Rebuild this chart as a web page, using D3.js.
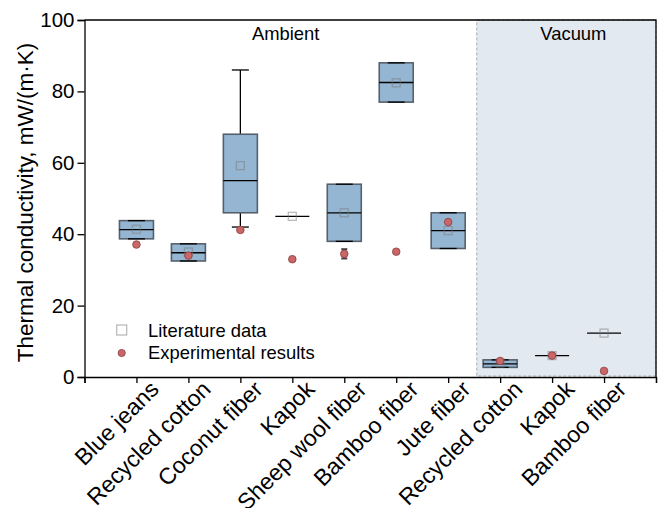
<!DOCTYPE html>
<html>
<head>
<meta charset="utf-8">
<script src="https://cdn.jsdelivr.net/npm/d3@7"></script>
<style>
  html, body { margin: 0; padding: 0; background: #fff; }
  svg { display: block; }
  text { font-family: "Liberation Sans", Arial, Helvetica, sans-serif; fill: #000; }
</style>
</head>
<body>
<svg id="chart" width="664" height="508"></svg>
<script>
// Insulation materials, in plotting order
const categories = ["Blue jeans", "Recycled cotton", "Coconut fiber", "Kapok", "Sheep wool fiber",
                    "Bamboo fiber", "Jute fiber", "Recycled cotton", "Kapok", "Bamboo fiber"];
const conditions = ["Ambient", "Ambient", "Ambient", "Ambient", "Ambient", "Ambient", "Ambient",
                    "Vacuum", "Vacuum", "Vacuum"];

// Literature data: box statistics, mW/(m·K)
const litMin    = [38.7, 32.5, 42.0, 45.0, 38.0, 77.0, 36.0, 2.7, 6.0, 12.3];
const litQ1     = [38.7, 32.5, 46.0, 45.0, 38.0, 77.0, 36.0, 2.7, 6.0, 12.3];
const litMedian = [41.3, 34.8, 55.0, 45.0, 46.0, 82.5, 41.0, 3.7, 6.0, 12.3];
const litQ3     = [43.8, 37.3, 68.0, 45.0, 54.0, 88.0, 46.0, 4.8, 6.0, 12.3];
const litMax    = [43.8, 37.3, 86.0, 45.0, 54.0, 88.0, 46.0, 4.8, 6.0, 12.3];
const litMean   = [41.4, 35.0, 59.2, 45.0, 46.0, 82.4, 41.0, 3.9, 6.0, 12.3];

// Experimental results with uncertainty
const expValue = [37.1, 34.0, 41.2, 33.0, 34.5, 35.1, 43.4, 4.5, 6.0, 1.7];
const expError = [0, 0, 0, 0, 1.3, 0, 0, 0, 0, 0];

const yTicks = [0, 20, 40, 60, 80, 100];
const vacuumStart = 7.55;   // boundary between ambient and vacuum groups (category index space)

const svg = d3.select("#chart");
const margin = { left: 84.5, right: 8, top: 20, bottom: 131 };
const W = 664, H = 508;

// categories sit at positions 1..n, frame spans 0..n+1
const x = d3.scaleLinear().domain([0, categories.length + 1]).range([margin.left, W - margin.right]);
const y = d3.scaleLinear().domain([0, 100]).range([H - margin.bottom, margin.top]);
const pos = i => x(i + 1);

const boxW = 34, capW = 17;

// vacuum background
svg.append("rect")
  .attr("x", x(vacuumStart)).attr("y", y(100))
  .attr("width", x(categories.length + 1) - x(vacuumStart))
  .attr("height", y(0) - y(100) - 1)
  .attr("fill", "#e2e9f1")
  .attr("stroke", "#a7aeb6").attr("stroke-width", 1).attr("stroke-dasharray", "3,2");

// group labels
svg.append("text").attr("x", (x(0) + x(vacuumStart)) / 2 + 5).attr("y", 40)
  .attr("text-anchor", "middle").attr("font-size", 18.4).text("Ambient");
svg.append("text").attr("x", (x(vacuumStart) + x(categories.length + 1)) / 2 + 7).attr("y", 40)
  .attr("text-anchor", "middle").attr("font-size", 18.4).text("Vacuum");

const g = svg.append("g");
categories.forEach((c, i) => {
  const cx = pos(i);
  // whiskers
  g.append("line").attr("x1", cx).attr("x2", cx).attr("y1", y(litQ3[i])).attr("y2", y(litMax[i]))
    .attr("stroke", "#000").attr("stroke-width", 1.3);
  g.append("line").attr("x1", cx).attr("x2", cx).attr("y1", y(litQ1[i])).attr("y2", y(litMin[i]))
    .attr("stroke", "#000").attr("stroke-width", 1.3);
  // box
  if (litQ3[i] > litQ1[i]) {
    g.append("rect")
      .attr("x", cx - boxW / 2).attr("y", y(litQ3[i]))
      .attr("width", boxW).attr("height", y(litQ1[i]) - y(litQ3[i]))
      .attr("fill", "#94b6d3").attr("stroke", "#56616d").attr("stroke-width", 1.6);
  }
  // whisker caps
  [litMin[i], litMax[i]].forEach(v => {
    if (litMax[i] > litMin[i]) {
      g.append("line").attr("x1", cx - capW / 2).attr("x2", cx + capW / 2)
        .attr("y1", y(v)).attr("y2", y(v)).attr("stroke", "#000").attr("stroke-width", 1.3);
    }
  });
  // median
  g.append("line").attr("x1", cx - boxW / 2).attr("x2", cx + boxW / 2)
    .attr("y1", y(litMedian[i])).attr("y2", y(litMedian[i]))
    .attr("stroke", "#000").attr("stroke-width", 1.3);
  // literature mean
  g.append("rect").attr("x", cx - 4).attr("y", y(litMean[i]) - 4).attr("width", 8).attr("height", 8)
    .attr("fill", "none").attr("stroke", "#7a7a7a").attr("stroke-opacity", 0.5).attr("stroke-width", 1.3);
  // experimental error bar
  if (expError[i] > 0) {
    const e = expError[i];
    g.append("line").attr("x1", cx).attr("x2", cx)
      .attr("y1", y(expValue[i] + e)).attr("y2", y(expValue[i] - e))
      .attr("stroke", "#444").attr("stroke-width", 2);
    [expValue[i] + e, expValue[i] - e].forEach(v => {
      g.append("line").attr("x1", cx - 3).attr("x2", cx + 3).attr("y1", y(v)).attr("y2", y(v))
        .attr("stroke", "#444").attr("stroke-width", 2);
    });
  }
  // experimental point
  g.append("circle").attr("cx", cx).attr("cy", y(expValue[i])).attr("r", 3.8)
    .attr("fill", "#c86668").attr("stroke", "#8a3b3d").attr("stroke-width", 0.8);
});

// frame (top and right)
svg.append("path")
  .attr("d", `M${x(0)},${y(100)}H${x(categories.length + 1)}V${y(0)}`)
  .attr("fill", "none").attr("stroke", "#000").attr("stroke-width", 1.3);

// y axis
const yAxis = svg.append("g").attr("transform", `translate(${x(0)},0)`)
  .call(d3.axisLeft(y).tickValues(yTicks).tickSize(7).tickPadding(3));
yAxis.select(".domain").attr("stroke-width", 1.3);
yAxis.selectAll(".tick line").attr("stroke-width", 1.3);
yAxis.selectAll(".tick text").attr("font-size", 20.5)
  .style("font-family", '"Liberation Sans", Arial, sans-serif');

// x axis
const xAxis = svg.append("g").attr("transform", `translate(0,${y(0)})`)
  .call(d3.axisBottom(x).tickValues(d3.range(0, categories.length + 2)).tickSize(6).tickFormat(""));
xAxis.select(".domain").attr("stroke-width", 1.3);
xAxis.selectAll(".tick line").attr("stroke-width", 1.3);

svg.append("g").selectAll("text").data(categories).join("text")
  .attr("transform", (d, i) => `translate(${pos(i) + 18},${y(0) + 8}) rotate(-45)`)
  .attr("text-anchor", "end").attr("dy", "0.35em")
  .attr("font-size", 23).text(d => d);

// y axis title
svg.append("text")
  .attr("transform", `translate(33,${(y(0) + y(100)) / 2 + 4}) rotate(-90)`)
  .attr("text-anchor", "middle").attr("font-size", 22.5)
  .text("Thermal conductivity, mW/(m·K)");

// legend
const lg = svg.append("g");
lg.append("rect").attr("x", 116.7).attr("y", 325).attr("width", 10).attr("height", 10)
  .attr("fill", "none").attr("stroke", "#b5b5b5").attr("stroke-width", 1.2);
lg.append("text").attr("x", 148).attr("y", 336.5).attr("font-size", 18.4).text("Literature data");
lg.append("circle").attr("cx", 121.7).attr("cy", 353).attr("r", 3.6)
  .attr("fill", "#c86668").attr("stroke", "#8a3b3d").attr("stroke-width", 0.8);
lg.append("text").attr("x", 148).attr("y", 359).attr("font-size", 18.4).text("Experimental results");
</script>
</body>
</html>
